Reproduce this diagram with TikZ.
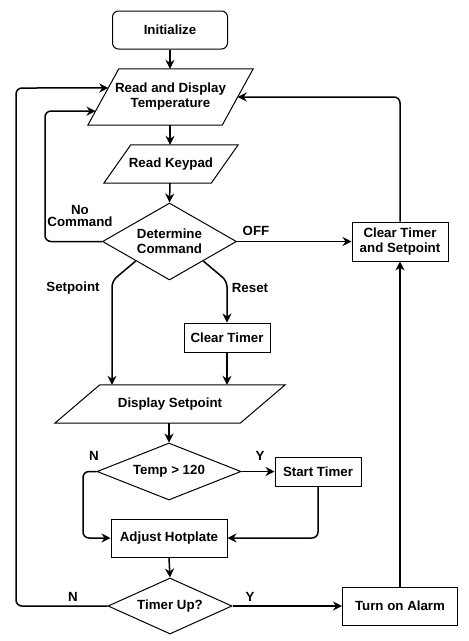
\documentclass[tikz,border=0pt]{standalone}
\usepackage{fontspec}
\setmainfont{Liberation Sans}
\usetikzlibrary{shapes.geometric,arrows.meta,calc}
\begin{document}
\begin{tikzpicture}[x=1pt,y=-1pt,
  font=\fontsize{13.3}{15}\selectfont\bfseries,
  shpline/.style={draw,line width=1pt,line join=miter},
  shp/.style={shpline,align=center,inner sep=0pt},
  box/.style={shp,rectangle},
  iotext/.style={align=center,inner sep=0pt,rectangle},
  dia/.style={shp,diamond},
  conn/.style={line width=1.5pt,rounded corners=6pt},
  arr/.style={conn,-{Stealth[length=9pt,width=9pt,inset=3pt]}},
  lbl/.style={inner sep=0pt,align=center}]
\useasboundingbox (0,0) rectangle (469,641);

\node[box,rounded corners=6pt,minimum width=115pt,minimum height=38pt] (init) at (170,30) {Initialize};
\node[iotext,minimum width=165pt,minimum height=56pt] (rdt) at (170.5,97) {Read and Display\\Temperature};
\node[iotext,minimum width=134pt,minimum height=38pt] (key) at (171,164) {Read Keypad};
\node[dia,aspect=1.72,minimum width=134pt,minimum height=77pt] (det) at (169.5,241.5) {Determine\\Command};
\node[box,minimum width=96pt,minimum height=39pt] (cts) at (400,241.5) {Clear Timer\\and Setpoint};
\node[box,minimum width=86pt,minimum height=29pt] (ct) at (227,337.5) {Clear Timer};
\node[iotext,minimum width=230pt,minimum height=38pt] (ds) at (170,404) {Display Setpoint};
\node[dia,aspect=2.5,minimum width=144pt,minimum height=57pt] (temp) at (169,471.5) {Temp > 120};
\node[box,minimum width=86pt,minimum height=29pt] (st) at (318,471.5) {Start Timer};
\node[box,minimum width=116pt,minimum height=38pt] (adj) at (169,538) {Adjust Hotplate};
\node[dia,aspect=2.2,minimum width=124pt,minimum height=56pt] (tu) at (170,606) {Timer Up?};
\node[box,minimum width=115pt,minimum height=38pt] (alarm) at (400,606) {Turn on Alarm};

% parallelogram outlines
\coordinate (rdtTL) at ($(rdt.north west)+(31,0)$);
\coordinate (rdtBR) at ($(rdt.south east)-(31,0)$);
\draw[shpline] (rdtTL) -- (rdt.north east) -- (rdtBR) -- (rdt.south west) -- cycle;
\coordinate (keyTL) at ($(key.north west)+(27,0)$);
\coordinate (keyBR) at ($(key.south east)-(27,0)$);
\draw[shpline] (keyTL) -- (key.north east) -- (keyBR) -- (key.south west) -- cycle;
\coordinate (dsTL) at ($(ds.north west)+(45,0)$);
\coordinate (dsBR) at ($(ds.south east)-(45,0)$);
\draw[shpline] (dsTL) -- (ds.north east) -- (dsBR) -- (ds.south west) -- cycle;

\coordinate (inA) at ($(rdtTL)!0.34!(rdt.south west)$);
\coordinate (inB) at ($(rdtTL)!0.75!(rdt.south west)$);
\coordinate (inC) at ($(rdt.north east)!0.5!(rdtBR)$);
\coordinate (spb) at (112,281);
\coordinate (rsb) at (227,281);

\draw[arr] (init.south) -- (init.south |- rdt.north);
\draw[arr] (init.south |- rdt.south) -- (init.south |- key.north);
\draw[arr] (init.south |- key.south) -- (det.north);
\draw[arr] (det.east) -- (cts.west);
\draw[arr] (det.west) -- (45,241.5) -- (45,111) -- (inB);
\draw[arr] (det.south west) -- (spb) -- (spb |- ds.north);
\draw[arr] (det.south east) -- (rsb) -- (ct.north);
\draw[arr] (ct.south) -- (ct.south |- ds.north);
\draw[arr] (temp.north |- ds.south) -- (temp.north);
\draw[arr] (temp.east) -- (st.west);
\draw[arr] (temp.west) -- (83,471.5) -- (83,538) -- (adj.west);
\draw[arr] (st.south) -- (st.south |- adj.east) -- (adj.east);
\draw[arr] (adj.south) -- (tu.north);
\draw[arr] (tu.east) -- (alarm.west);
\draw[arr] (tu.west) -- (16,606) -- (16,88) -- (inA);
\draw[arr] (alarm.north) -- (cts.south);
\draw[arr] (cts.north) -- (cts.north |- inC) -- (inC);

\node[lbl,font=\fontsize{13.3}{12.5}\selectfont\bfseries] (lnc) at (80,216) {No\\Command};
\node[lbl] (loff) at (256,231) {OFF};
\node[lbl] (lsp) at (73,288) {Setpoint};
\node[lbl] (lrs) at (250,288) {Reset};
\node[lbl] (ln1) at (94,456) {N};
\node[lbl] (ly1) at (260,456) {Y};
\node[lbl] (ln2) at (73,597) {N};
\node[lbl] (ly2) at (250,597) {Y};
\end{tikzpicture}
\end{document}
